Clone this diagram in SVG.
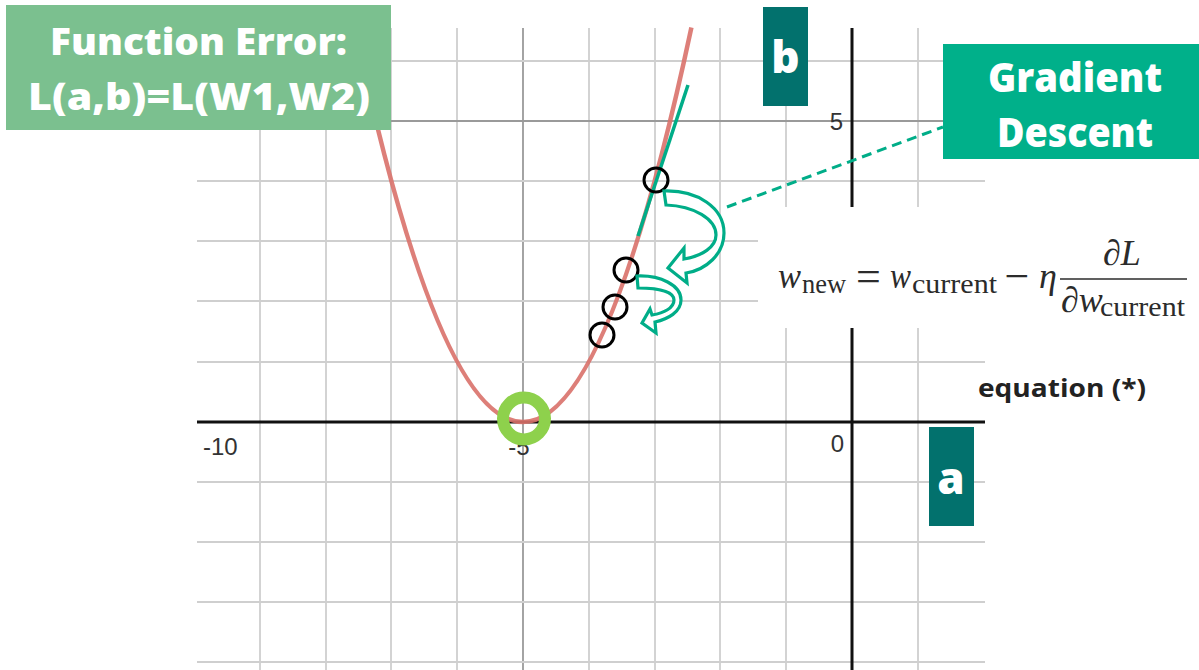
<svg xmlns="http://www.w3.org/2000/svg" width="1199" height="670" viewBox="0 0 1199 670">
<style>
.gl{stroke:#cfcfcf;stroke-width:1.8}
.major{stroke:#9a9a9a;stroke-width:1.8}
.axis{stroke:#111;stroke-width:3}
.tick{font-family:"Liberation Sans",Arial,sans-serif;font-size:24px;fill:#333}
.bt{font-family:"Open Sans",Lato,sans-serif;font-weight:800;fill:#fff;text-anchor:middle}
.pt{fill:none;stroke:#000;stroke-width:3}
.arrow{fill:#fff;stroke:#00ad88;stroke-width:3.2;stroke-linejoin:miter}
.eq{font-family:"Liberation Serif","Times New Roman",serif;fill:#2b2b2b}
.mi{font-style:italic}
</style>
<rect width="1199" height="670" fill="#fff"/>
<g id="grid">
<line class="gl" x1="260" y1="28" x2="260" y2="670"/>
<line class="gl" x1="326" y1="28" x2="326" y2="670"/>
<line class="gl" x1="391" y1="28" x2="391" y2="670"/>
<line class="gl" x1="457" y1="28" x2="457" y2="670"/>
<line class="major" x1="523" y1="28" x2="523" y2="670"/>
<line class="gl" x1="589" y1="28" x2="589" y2="670"/>
<line class="gl" x1="655" y1="28" x2="655" y2="670"/>
<line class="gl" x1="720" y1="28" x2="720" y2="670"/>
<line class="gl" x1="786" y1="28" x2="786" y2="670"/>
<line class="gl" x1="918" y1="28" x2="918" y2="670"/>
<line class="gl" x1="197" y1="61" x2="985" y2="61"/>
<line class="major" x1="197" y1="121" x2="985" y2="121"/>
<line class="gl" x1="197" y1="181" x2="985" y2="181"/>
<line class="gl" x1="197" y1="241" x2="985" y2="241"/>
<line class="gl" x1="197" y1="301" x2="985" y2="301"/>
<line class="gl" x1="197" y1="362" x2="985" y2="362"/>
<line class="gl" x1="197" y1="482" x2="985" y2="482"/>
<line class="gl" x1="197" y1="542" x2="985" y2="542"/>
<line class="gl" x1="197" y1="602" x2="985" y2="602"/>
<line class="gl" x1="197" y1="662" x2="985" y2="662"/>
<line class="axis" x1="197" y1="422" x2="985" y2="422"/>
<line class="axis" x1="852" y1="28" x2="852" y2="670"/>
<text class="tick" x="203" y="455">-10</text>
<text class="tick" x="519" y="455" text-anchor="middle">-5</text>
<text class="tick" x="844" y="452" text-anchor="end">0</text>
<text class="tick" x="843" y="130" text-anchor="end">5</text>
</g>
<g id="curve">
<path d="M354.6,27.5 Q523,816.5 691.4,27.5" fill="none" stroke="#d9716a" stroke-width="4.5" opacity="0.9"/>
</g>
<g id="equation">
<rect x="758" y="207" width="441" height="121" fill="#fff"/>
<text class="eq mi" x="778" y="288" font-size="36" textLength="23" lengthAdjust="spacingAndGlyphs">w</text>
<text class="eq" x="802" y="293" font-size="27" textLength="44" lengthAdjust="spacingAndGlyphs">new</text>
<text class="eq" x="868.5" y="291" font-size="44" text-anchor="middle">=</text>
<text class="eq mi" x="890" y="288" font-size="36" textLength="21" lengthAdjust="spacingAndGlyphs">w</text>
<text class="eq" x="912" y="293" font-size="27" textLength="85" lengthAdjust="spacingAndGlyphs">current</text>
<text class="eq" x="1017" y="291" font-size="44" text-anchor="middle">−</text>
<text class="eq mi" x="1039" y="288" font-size="36">η</text>
<line x1="1060" y1="279" x2="1187" y2="279" stroke="#2b2b2b" stroke-width="1.6"/>
<text class="eq" x="1103" y="265" font-size="36">∂<tspan class="mi">L</tspan></text>
<text class="eq" x="1061" y="312" font-size="36">∂<tspan class="mi">w</tspan></text>
<text class="eq" x="1100" y="316" font-size="27" textLength="85" lengthAdjust="spacingAndGlyphs">current</text>
</g>
<g id="tangent">
<line x1="688" y1="85" x2="638" y2="236" stroke="#00ad88" stroke-width="3.5"/>
</g>
<g id="points">
<circle class="pt" cx="656" cy="180" r="12"/>
<circle class="pt" cx="626" cy="270" r="12"/>
<circle class="pt" cx="615" cy="307" r="12"/>
<circle class="pt" cx="602" cy="335" r="12"/>
</g>
<g id="minimum">
<circle cx="524" cy="418.5" r="21" fill="none" stroke="#8ed14c" stroke-width="12"/>
</g>
<g id="connectors">
<path class="arrow" d="M664,191 C698,190 724,208 724,233 C724,254 706,270 686,273 L687,283 L668,268 L684,248 L684,259 C702,256 716,247 716,235 C716,219 694,206 666,205 Z"/>
<path class="arrow" d="M637,276 C660,275 681,285 681,300 C681,312 668,319 655,322 L656,333 L642,323 L650,309 L652,315 C664,313 674,308 674,300 C674,292 660,288 638,288 Z"/>
<line x1="727" y1="207" x2="943" y2="127" stroke="#00ad88" stroke-width="3" stroke-dasharray="10 6"/>
</g>
<g id="function-error">
<rect x="6" y="5" width="385" height="125" fill="#7bc08f"/>
<text class="bt" x="198.5" y="55" font-size="37" textLength="297" lengthAdjust="spacingAndGlyphs">Function Error:</text>
<text class="bt" x="199" y="110" font-size="37" textLength="342" lengthAdjust="spacingAndGlyphs">L(a,b)=L(W1,W2)</text>
</g>
<g id="b-label">
<rect x="763" y="7" width="45" height="99" fill="#02716d"/>
<text class="bt" x="785.5" y="73" font-size="44">b</text>
</g>
<g id="a-label">
<rect x="929" y="427" width="45" height="99" fill="#02716d"/>
<text class="bt" x="951" y="494" font-size="44">a</text>
</g>
<g id="gradient-descent">
<rect x="943" y="44" width="256" height="115" fill="#00b08a"/>
<text class="bt" x="1075" y="92" font-size="40" textLength="174" lengthAdjust="spacingAndGlyphs">Gradient</text>
<text class="bt" x="1075" y="147" font-size="40" textLength="156" lengthAdjust="spacingAndGlyphs">Descent</text>
</g>
<g id="equation-label">
<text x="978" y="397" font-family="'Open Sans',Lato,sans-serif" font-weight="700" font-size="25" fill="#222" textLength="168" lengthAdjust="spacingAndGlyphs">equation (*)</text>
</g>
</svg>
